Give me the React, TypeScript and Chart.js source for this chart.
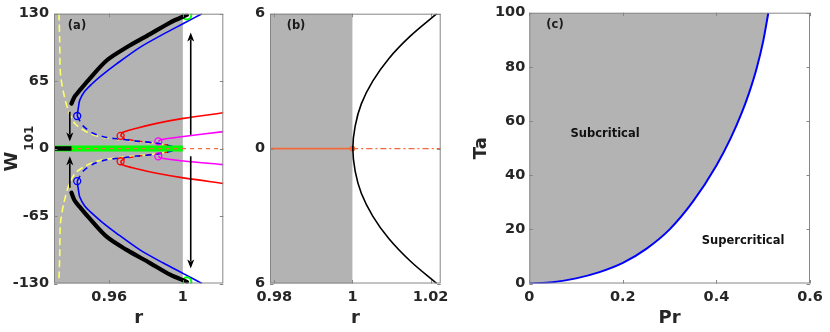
import React, { useEffect, useRef } from 'react';
import { Chart, registerables } from 'chart.js';
Chart.register(...registerables);

// ---------- shared style ----------
const FONT = '"DejaVu Sans", "Liberation Sans", sans-serif';
const TICK_COLOR = '#262626';
const GRAY = '#b3b3b3';
const FRAME = '#868686';
const BLUE = '#0000ff';
const RED = '#ff0000';
const MAGENTA = '#ff00ff';
const GREEN = '#00ff00';
const YELLOW = '#ffff66';
const ORANGE = '#f26a3d';

// ---------- panel (a) data ----------
const A_X_TICKS = [0.96, 1];
const A_X_LABELS = ['0.96', '1'];
const A_Y_TICKS = [-130, -65, 0, 65, 130];
const A_Y_LABELS = ['-130', '-65', '0', '65', '130'];
const A_R_RANGE = [0.93, 1.022];
const A_W_RANGE = [-130, 130];
const A_SHADE_R = [0.93, 1.0];

const BLACK_R = [0.9395, 0.9412, 0.944, 0.9486, 0.9586, 0.9695, 0.9822, 0.9931, 1.0022];
const BLACK_UP_W = [43.4, 50, 56.2, 65.8, 84.9, 97.6, 110.3, 121.5, 128.8];
const BLACK_LO_W = [-42.5, -50, -56.2, -65.8, -84.9, -97.6, -110.3, -121.5, -128.4];
const BLACK_ZERO_R = [0.93, 0.9395];
const GREEN_ZERO_R = [0.93, 1.0];
const ORANGE_ZERO_R = [0.93, 1.022];
const GREEN_END_R = [1.0022, 1.0022];
const GREEN_END_W = [128.8, -128.4];

const BLUE_R = [0.9426, 0.9432, 0.944, 0.9466, 0.9504, 0.9559, 0.964, 0.9767, 0.9894, 1.0003, 1.0104];
const BLUE_UP_W = [31.4, 39, 46.7, 55, 62, 70.5, 81.6, 97.6, 110.3, 120.5, 130];
const BLUE_LO_W = [-31.3, -39, -46.7, -55, -62, -70.5, -81.6, -97.6, -110.3, -120.5, -130];
const BLUE_D_R = [0.9426, 0.9458, 0.9513, 0.9586, 0.9662, 0.9749, 0.9858, 1.0];
const BLUE_D_UP_W = [31.4, 21.9, 14.8, 10.7, 9.1, 7.2, 5.3, 0];
const BLUE_D_LO_W = [-31.3, -21.9, -14.8, -10.7, -9.1, -7.2, -5.3, 0];

const YEL_R = [0.9327, 0.9331, 0.9335, 0.9353, 0.9377, 0.9413, 0.9458, 0.9513, 0.9586, 0.9749, 0.9858, 1.0];
const YEL_UP_W = [130, 104, 72, 53, 37.1, 24.3, 18, 13.3, 10.2, 7, 5, 0];
const YEL_LO_W = [-125, -104, -72, -53, -37.1, -24.3, -18, -13.3, -10.2, -7, -5, 0];

const RED_R = [0.9662, 0.9672, 0.9749, 0.9858, 1.0003, 1.0221];
const RED_UP_W = [12.3, 15.5, 19.6, 24.3, 29.1, 34.6];
const RED_LO_W = [-12.2, -15.5, -19.4, -23.8, -28.2, -33.5];
const RED_D_R = [0.9662, 0.9685, 0.975, 0.9858, 0.992];
const RED_D_UP_W = [12.3, 9.6, 7.5, 5, 3.2];
const RED_D_LO_W = [-12.2, -9.6, -7.5, -5, -3.2];

const MAG_R = [0.9867, 0.988, 1.0003, 1.0221];
const MAG_UP_W = [6.9, 8.6, 11.6, 16.4];
const MAG_LO_W = [-7.4, -9, -12, -15.4];

const BLUE_SN_R = [0.9426, 0.9426];
const BLUE_SN_W = [31.4, -31.3];
const RED_SN_R = [0.9662, 0.9662];
const RED_SN_W = [12.3, -12.2];
const MAG_SN_R = [0.9867, 0.9867];
const MAG_SN_W = [6.9, -7.4];

const ARROW_R = [0.9386, 0.9386, 1.0043, 1.0043];
const ARROW_FROM_W = [35.5, -37.7, 13.3, -7.4];
const ARROW_TO_W = [6.9, -7.4, 112, -115.6];

// ---------- panel (b) data ----------
const B_R_RANGE = [0.9789, 1.0226];
const B_W_RANGE = [-6, 6];
const B_X_TICKS = [0.98, 1, 1.02];
const B_X_LABELS = ['0.98', '1', '1.02'];
const B_Y_TICKS = [-6, 0, 6];
const B_Y_LABELS = ['6', '0', '6'];
const B_SHADE_R = [0.9789, 1.0];
const B_CURVE_R = [1.0216, 1.0148, 1.0093, 1.0052, 1.0023, 1.0007, 1.0001, 1.0007, 1.0023, 1.0052, 1.0093, 1.0148, 1.0216];
const B_CURVE_W = [6, 5, 4, 3, 2, 1, 0, -1, -2, -3, -4, -5, -6];
const B_TRIV_SOLID_R = [0.9789, 1.0];
const B_TRIV_DASH_R = [1.0, 1.0226];

// ---------- panel (c) data ----------
const C_PR_RANGE = [0, 0.6];
const C_TA_RANGE = [0, 100];
const C_X_TICKS = [0, 0.2, 0.4, 0.6];
const C_X_LABELS = ['0', '0.2', '0.4', '0.6'];
const C_Y_TICKS = [0, 20, 40, 60, 80, 100];
const C_Y_LABELS = ['0', '20', '40', '60', '80', '100'];
const C_PR = [0, 0.05, 0.1, 0.15, 0.2, 0.25, 0.3, 0.35, 0.4, 0.43, 0.454, 0.47, 0.486, 0.5, 0.511];
const C_TA = [0, 0.5, 1.9, 4.2, 7.6, 12.8, 20, 30.3, 43.6, 53.5, 63, 70.5, 79.5, 89.5, 100];
const C_NOTES = ['Subcritical', 'Supercritical'];
const C_NOTE_PR = [0.162, 0.457];
const C_NOTE_TA = [55.1, 15.7];

// ---------- helpers ----------
const zip = (xs: number[], ys: number[]) => xs.map((x, i) => ({ x, y: ys[i] }));
const zeros = (xs: number[]) => xs.map(() => 0);

const TOP = 11.5;
const BOTTOM = 283.5;
const H = 332;

function lineDs(data: any[], color: string, width: number, order: number, extra: any = {}) {
  return {
    data,
    borderColor: color,
    backgroundColor: color,
    borderWidth: width,
    pointRadius: 0,
    pointHoverRadius: 0,
    tension: 0.3,
    fill: false,
    order,
    ...extra,
  };
}

function circleDs(data: any[], color: string, order: number, radius = 3.5, bw = 1.3) {
  return {
    data,
    showLine: false,
    pointRadius: radius,
    pointHoverRadius: radius,
    pointStyle: 'circle',
    pointBorderColor: color,
    pointBackgroundColor: 'rgba(0,0,0,0)',
    pointBorderWidth: bw,
    borderColor: color,
    backgroundColor: 'rgba(0,0,0,0)',
    order,
  };
}

const tickFont = { family: FONT, size: 14.5, weight: 'bold' as const };
const titleFont = { family: FONT, size: 18, weight: 'bold' as const };

function makeScales(o: any) {
  return {
    x: {
      type: 'linear',
      min: o.xRange[0],
      max: o.xRange[1],
      afterBuildTicks: (ax: any) => { ax.ticks = o.xTicks.map((v: number) => ({ value: v })); },
      afterFit: (s: any) => { s.height = H - BOTTOM; },
      grid: { display: false, drawTicks: false },
      border: { display: false },
      ticks: {
        autoSkip: false, maxRotation: 0, minRotation: 0, padding: 5,
        color: TICK_COLOR, font: tickFont,
        callback: (_v: any, i: number) => o.xLabels[i],
      },
      title: o.xTitle
        ? { display: true, text: o.xTitle, color: TICK_COLOR, font: titleFont, padding: { top: 0, bottom: 3 } }
        : { display: false },
    },
    y: {
      type: 'linear',
      min: o.yRange[0],
      max: o.yRange[1],
      afterBuildTicks: (ax: any) => { ax.ticks = o.yTicks.map((v: number) => ({ value: v })); },
      afterFit: (s: any) => { s.width = o.yWidth; },
      grid: { display: false, drawTicks: false },
      border: { display: false },
      ticks: {
        autoSkip: false, padding: o.yPad, color: TICK_COLOR, font: tickFont,
        callback: (_v: any, i: number) => o.yLabels[i],
      },
      title: o.yTitle
        ? { display: true, text: o.yTitle, color: TICK_COLOR, font: titleFont, padding: { top: 4, bottom: 0 } }
        : { display: false },
    },
  };
}

const framePlugin = {
  id: 'frame',
  afterDatasetsDraw(chart: any) {
    const { ctx, chartArea: a, scales } = chart;
    ctx.save();
    ctx.strokeStyle = FRAME;
    ctx.lineWidth = 1;
    ctx.strokeRect(a.left + 0.5, a.top + 0.5, a.right - a.left - 1, a.bottom - a.top - 1);
    const len = 3.5;
    ctx.beginPath();
    scales.x.ticks.forEach((t: any) => {
      const px = Math.round(scales.x.getPixelForValue(t.value)) + 0.5;
      ctx.moveTo(px, a.bottom); ctx.lineTo(px, a.bottom - len);
      ctx.moveTo(px, a.top); ctx.lineTo(px, a.top + len);
    });
    scales.y.ticks.forEach((t: any) => {
      const py = Math.round(scales.y.getPixelForValue(t.value)) + 0.5;
      ctx.moveTo(a.left, py); ctx.lineTo(a.left + len, py);
      ctx.moveTo(a.right, py); ctx.lineTo(a.right - len, py);
    });
    ctx.stroke();
    ctx.restore();
  },
};

function shadePlugin(range: number[]) {
  return {
    id: 'shade',
    beforeDatasetsDraw(chart: any) {
      const { ctx, chartArea: a, scales } = chart;
      const x0 = Math.max(a.left, scales.x.getPixelForValue(range[0]));
      const x1 = scales.x.getPixelForValue(range[1]);
      ctx.save();
      ctx.fillStyle = GRAY;
      ctx.fillRect(x0, a.top, x1 - x0, a.bottom - a.top);
      ctx.restore();
    },
  };
}

function panelLabelPlugin(text: string, dx: number, dy: number) {
  return {
    id: 'panelLabel',
    afterDatasetsDraw(chart: any) {
      const { ctx, chartArea: a } = chart;
      ctx.save();
      ctx.fillStyle = '#1a1a1a';
      ctx.font = `bold 11.5px ${FONT}`;
      ctx.textAlign = 'center';
      ctx.textBaseline = 'middle';
      ctx.fillText(text, a.left + dx, a.top + dy);
      ctx.restore();
    },
  };
}

const arrowPlugin = {
  id: 'arrows',
  afterDatasetsDraw(chart: any) {
    const { ctx, scales } = chart;
    ctx.save();
    ctx.strokeStyle = '#000';
    ctx.fillStyle = '#000';
    ctx.lineWidth = 1.6;
    ARROW_R.forEach((r, i) => {
      const x = scales.x.getPixelForValue(r);
      const y0 = scales.y.getPixelForValue(ARROW_FROM_W[i]);
      const y1 = scales.y.getPixelForValue(ARROW_TO_W[i]);
      const dir = y1 > y0 ? 1 : -1;
      const headLen = 9, headHalf = 3.5;
      ctx.beginPath();
      ctx.moveTo(x, y0);
      ctx.lineTo(x, y1 - dir * headLen * 0.8);
      ctx.stroke();
      ctx.beginPath();
      ctx.moveTo(x, y1);
      ctx.lineTo(x - headHalf, y1 - dir * headLen);
      ctx.lineTo(x, y1 - dir * headLen * 0.75);
      ctx.lineTo(x + headHalf, y1 - dir * headLen);
      ctx.closePath();
      ctx.fill();
    });
    ctx.restore();
  },
};

const wTitlePlugin = {
  id: 'wTitle',
  afterDraw(chart: any) {
    const { ctx, chartArea: a } = chart;
    const yc = (a.top + a.bottom) / 2;
    ctx.save();
    ctx.fillStyle = TICK_COLOR;
    ctx.translate(16.7, yc);
    ctx.rotate(-Math.PI / 2);
    ctx.textBaseline = 'alphabetic';
    ctx.textAlign = 'left';
    ctx.font = `bold 18px ${FONT}`;
    const ww = ctx.measureText('W').width;
    ctx.font = `bold 12px ${FONT}`;
    const sw = ctx.measureText('101').width;
    const start = -(ww + sw + 1) / 2;
    ctx.font = `bold 18px ${FONT}`;
    ctx.fillText('W', start, 0);
    ctx.font = `bold 12px ${FONT}`;
    ctx.fillText('101', start + ww + 1, 16.3);
    ctx.restore();
  },
};

const notesPlugin = {
  id: 'notes',
  afterDatasetsDraw(chart: any) {
    const { ctx, scales } = chart;
    ctx.save();
    ctx.fillStyle = '#111';
    ctx.font = `bold 11.5px ${FONT}`;
    ctx.textAlign = 'center';
    ctx.textBaseline = 'middle';
    C_NOTES.forEach((t, i) => {
      ctx.fillText(t, scales.x.getPixelForValue(C_NOTE_PR[i]), scales.y.getPixelForValue(C_NOTE_TA[i]));
    });
    ctx.restore();
  },
};

const baseOptions = (padding: any, scales: any) => ({
  responsive: false,
  animation: false as const,
  devicePixelRatio: 1,
  layout: { padding },
  plugins: { legend: { display: false }, tooltip: { enabled: false } },
  events: [] as any[],
  scales,
});

// ---------- configs ----------
function configA() {
  const datasets = [
    lineDs(zip(YEL_R, YEL_UP_W), YELLOW, 1.6, 10, { borderDash: [7, 4] }),
    lineDs(zip(YEL_R, YEL_LO_W), YELLOW, 1.6, 10, { borderDash: [7, 4] }),
    lineDs(zip(BLUE_D_R, BLUE_D_UP_W), BLUE, 1.6, 9, { borderDash: [6, 5] }),
    lineDs(zip(BLUE_D_R, BLUE_D_LO_W), BLUE, 1.6, 9, { borderDash: [6, 5] }),
    lineDs(zip(RED_D_R, RED_D_UP_W), RED, 1.4, 9, { borderDash: [5, 4] }),
    lineDs(zip(RED_D_R, RED_D_LO_W), RED, 1.4, 9, { borderDash: [5, 4] }),
    lineDs(zip(GREEN_ZERO_R, zeros(GREEN_ZERO_R)), GREEN, 6, 8),
    lineDs(zip(ORANGE_ZERO_R, zeros(ORANGE_ZERO_R)), ORANGE, 1.1, 7, { borderDash: [4, 4] }),
    lineDs(zip(BLACK_ZERO_R, zeros(BLACK_ZERO_R)), '#000', 4.5, 6),
    lineDs(zip(RED_R, RED_UP_W), RED, 1.6, 5),
    lineDs(zip(RED_R, RED_LO_W), RED, 1.6, 5),
    lineDs(zip(MAG_R, MAG_UP_W), MAGENTA, 1.6, 5),
    lineDs(zip(MAG_R, MAG_LO_W), MAGENTA, 1.6, 5),
    lineDs(zip(BLUE_R, BLUE_UP_W), BLUE, 1.6, 5),
    lineDs(zip(BLUE_R, BLUE_LO_W), BLUE, 1.6, 5),
    circleDs(zip(BLUE_SN_R, BLUE_SN_W), BLUE, 4),
    circleDs(zip(RED_SN_R, RED_SN_W), RED, 4),
    circleDs(zip(MAG_SN_R, MAG_SN_W), MAGENTA, 4),
    circleDs(zip(GREEN_END_R, GREEN_END_W), GREEN, 3, 4.5, 2),
    lineDs(zip(BLACK_R, BLACK_UP_W), '#000', 4.2, 2, { borderCapStyle: 'round' }),
    lineDs(zip(BLACK_R, BLACK_LO_W), '#000', 4.2, 2, { borderCapStyle: 'round' }),
  ];
  return {
    type: 'line',
    data: { datasets },
    options: baseOptions(
      { left: 0, top: TOP, right: 830 - 223.3, bottom: 0 },
      makeScales({
        xRange: A_R_RANGE, xTicks: A_X_TICKS, xLabels: A_X_LABELS, xTitle: 'r',
        yRange: A_W_RANGE, yTicks: A_Y_TICKS, yLabels: A_Y_LABELS, yWidth: 54, yPad: 5,
      })
    ),
    plugins: [shadePlugin(A_SHADE_R), arrowPlugin, framePlugin, panelLabelPlugin('(a)', 23, 12.5), wTitlePlugin],
  };
}

function configB() {
  const datasets = [
    lineDs(zip(B_TRIV_DASH_R, zeros(B_TRIV_DASH_R)), ORANGE, 1.2, 6, { borderDash: [6, 3, 2, 3] }),
    lineDs(zip(B_TRIV_SOLID_R, zeros(B_TRIV_SOLID_R)), ORANGE, 1.8, 5),
    circleDs([{ x: B_TRIV_SOLID_R[1], y: 0 }], ORANGE, 4, 2.5, 1),
    lineDs(zip(B_CURVE_R, B_CURVE_W), '#000', 1.6, 2, { tension: 0.4 }),
  ];
  (datasets[2] as any).pointBackgroundColor = ORANGE;
  return {
    type: 'line',
    data: { datasets },
    options: baseOptions(
      { left: 240, top: TOP, right: 830 - 440.7, bottom: 0 },
      makeScales({
        xRange: B_R_RANGE, xTicks: B_X_TICKS, xLabels: B_X_LABELS, xTitle: 'r',
        yRange: B_W_RANGE, yTicks: B_Y_TICKS, yLabels: B_Y_LABELS, yWidth: 30, yPad: 5,
      })
    ),
    plugins: [shadePlugin(B_SHADE_R), framePlugin, panelLabelPlugin('(b)', 26, 12.5)],
  };
}

function configC() {
  const datasets = [
    lineDs(zip(C_PR, C_TA), BLUE, 2, 2, { fill: 'end', backgroundColor: GRAY, cubicInterpolationMode: 'monotone' }),
  ];
  return {
    type: 'line',
    data: { datasets },
    options: baseOptions(
      { left: 466.5, top: TOP, right: 20, bottom: 0 },
      makeScales({
        xRange: C_PR_RANGE, xTicks: C_X_TICKS, xLabels: C_X_LABELS, xTitle: 'Pr',
        yRange: C_TA_RANGE, yTicks: C_Y_TICKS, yLabels: C_Y_LABELS, yWidth: 62.8, yPad: 4, yTitle: 'Ta',
      })
    ),
    plugins: [framePlugin, panelLabelPlugin('(c)', 25.7, 12.5), notesPlugin],
  };
}

function Panel({ make }: { make: () => any }) {
  const ref = useRef<HTMLCanvasElement | null>(null);
  useEffect(() => {
    if (!ref.current) return;
    const chart = new Chart(ref.current, make());
    return () => chart.destroy();
  }, [make]);
  return (
    <canvas
      ref={ref}
      width={830}
      height={332}
      style={{ position: 'absolute', left: 0, top: 0, width: 830, height: 332 }}
    />
  );
}

export default function App() {
  return (
    <div style={{ position: 'fixed', left: 0, top: 0, width: 830, height: 332, background: '#fff', overflow: 'hidden' }}>
      <Panel make={configA} />
      <Panel make={configB} />
      <Panel make={configC} />
    </div>
  );
}
